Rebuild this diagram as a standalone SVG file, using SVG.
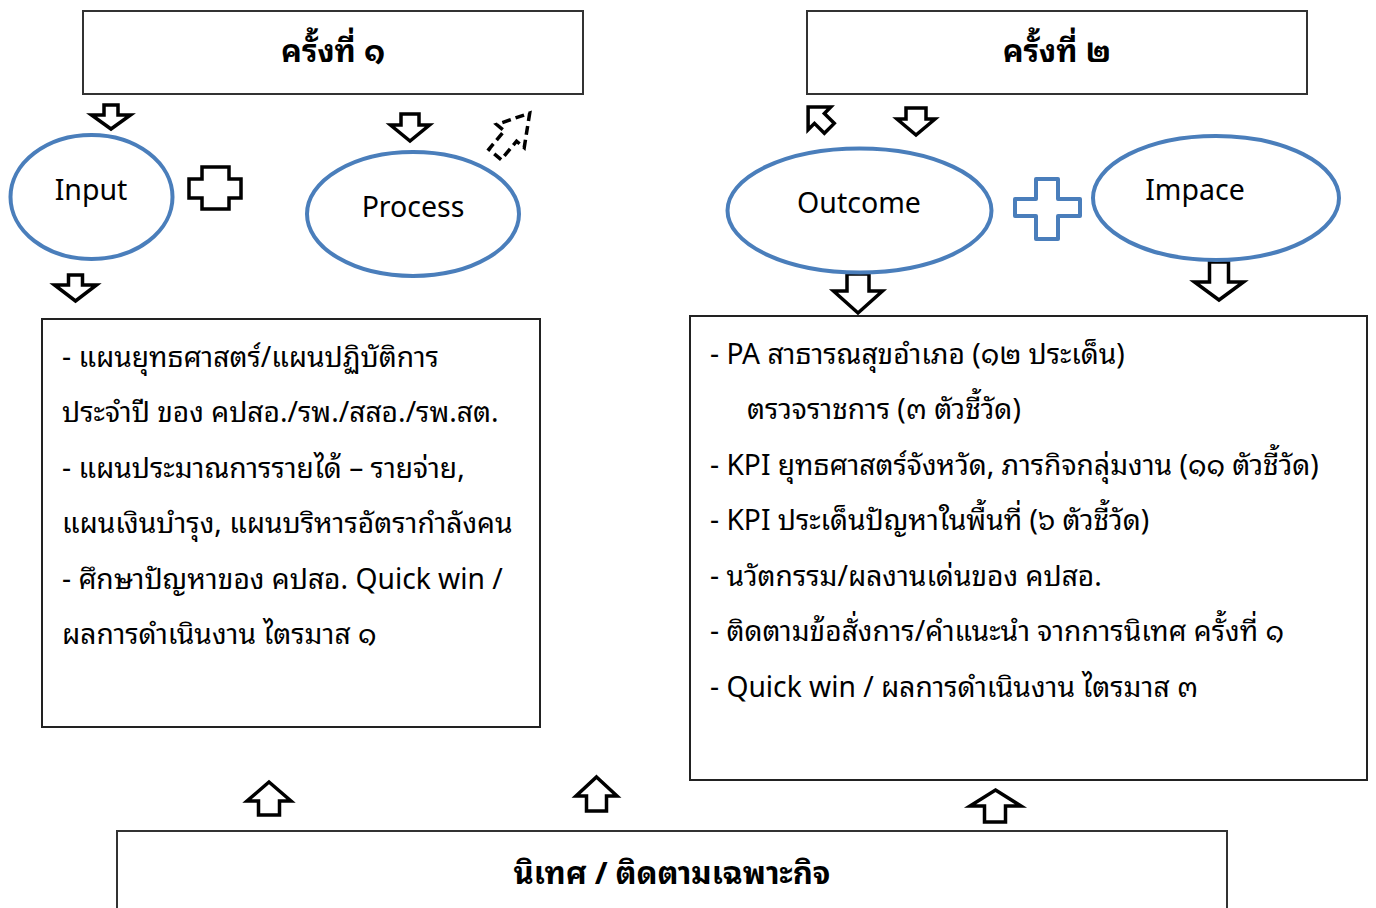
<svg xmlns="http://www.w3.org/2000/svg" width="1376" height="908" viewBox="0 0 1376 908">
<style>
.hdr{fill:#fff;stroke:#333;stroke-width:2}
.box{fill:#fff;stroke:#222;stroke-width:2}
.ell{fill:#fff;stroke:#4a7ebb;stroke-width:4}
.arr{fill:#fff;stroke:#000;stroke-width:3.5;stroke-linejoin:miter}
.t{font-family:"Noto Sans Thai Looped","Noto Serif Thai","Loma","Garuda","Noto Sans","Noto Sans Thai",sans-serif;fill:#000}
.b{font-size:31px;font-weight:bold}
.lbl{font-size:28.5px}
.body{font-size:28.2px}
</style>
<rect width="1376" height="908" fill="#fff"/>
<g id="connectors">
<path class="arr" d="M104 105H118V115H130.5L111 129L91.5 115H104Z"/>
<path class="arr" d="M401 114H419V125H429.5L410 141L390.5 125H401Z"/>
<path class="arr" d="M68.5 275H82.5V285H96.5L75.5 301L54.5 285H68.5Z"/>
<path class="arr" d="M847 274H869V291H882.5L858 313L833.5 291H847Z"/>
<path class="arr" d="M1209.5 262H1228.5V282H1243.5L1219 300L1194.5 282H1209.5Z"/>
<path class="arr" d="M906 108H926V119H935L916 135L897 119H906Z"/>
<path class="arr" transform="translate(818,117) rotate(135)" d="M-7 -16H7V-2H16L0 14L-16 -2H-7Z"/>
<path class="arr" transform="translate(513,133) rotate(-140)" d="M-8 -28H8V-4H18L0 26L-18 -4H-8Z" stroke-dasharray="9 5" stroke-width="4"/>
<path class="arr" d="M269 782L291 801H279.5V815H258.5V801H247Z"/>
<path class="arr" d="M596.5 777L617 796H606.5V811H586.5V796H576Z"/>
<path class="arr" d="M995.5 790L1021 806H1005.5V822H984.5V806H970Z"/>
<path class="arr" stroke-width="4" d="M202 167H229V179H241V198H229V209H202V198H189V179H202Z"/>
<path d="M1036 179H1058V199H1080V216H1058V239H1036V216H1015V199H1036Z" fill="#fff" stroke="#4a7ebb" stroke-width="4" stroke-linejoin="round"/>
</g>
<g id="n1"><rect class="hdr" x="83" y="11" width="500" height="83"/><text class="t b" x="333" y="62" text-anchor="middle">ครั้งที่ ๑</text></g>
<g id="n2"><rect class="hdr" x="807" y="11" width="500" height="83"/><text class="t b" x="1057" y="62" text-anchor="middle">ครั้งที่ ๒</text></g>
<g id="input"><ellipse class="ell" cx="91.5" cy="197" rx="81" ry="62"/><text class="t lbl" x="91" y="200" text-anchor="middle">Input</text></g>
<g id="process"><ellipse class="ell" cx="413" cy="214" rx="106" ry="62"/><text class="t lbl" x="413" y="217" text-anchor="middle">Process</text></g>
<g id="outcome"><ellipse class="ell" cx="859.5" cy="210.5" rx="132" ry="62"/><text class="t lbl" x="859" y="213" text-anchor="middle">Outcome</text></g>
<g id="impace"><ellipse class="ell" cx="1216" cy="198" rx="123" ry="62"/><text class="t lbl" x="1195" y="200" text-anchor="middle">Impace</text></g>
<g id="left-box"><rect class="box" x="42" y="319" width="498" height="408"/>
<text class="t body" x="62" y="367">- แผนยุทธศาสตร์/แผนปฏิบัติการ</text>
<text class="t body" x="62" y="422">ประจำปี ของ คปสอ./รพ./สสอ./รพ.สต.</text>
<text class="t body" x="62" y="478">- แผนประมาณการรายได้ – รายจ่าย,</text>
<text class="t body" x="62" y="533">แผนเงินบำรุง, แผนบริหารอัตรากำลังคน</text>
<text class="t body" x="62" y="589">- ศึกษาปัญหาของ คปสอ. Quick win /</text>
<text class="t body" x="62" y="644">ผลการดำเนินงาน ไตรมาส ๑</text>
</g>
<g id="right-box"><rect class="box" x="690" y="316" width="677" height="464" stroke="#444"/>
<text class="t body" x="710" y="364">- PA สาธารณสุขอำเภอ (๑๒ ประเด็น)</text>
<text class="t body" x="747" y="419">ตรวจราชการ (๓ ตัวชี้วัด)</text>
<text class="t body" x="710" y="475">- KPI ยุทธศาสตร์จังหวัด, ภารกิจกลุ่มงาน (๑๑ ตัวชี้วัด)</text>
<text class="t body" x="710" y="530">- KPI ประเด็นปัญหาในพื้นที่  (๖ ตัวชี้วัด)</text>
<text class="t body" x="710" y="586">- นวัตกรรม/ผลงานเด่นของ คปสอ.</text>
<text class="t body" x="710" y="641">- ติดตามข้อสั่งการ/คำแนะนำ จากการนิเทศ ครั้งที่ ๑</text>
<text class="t body" x="710" y="697">- Quick win / ผลการดำเนินงาน ไตรมาส ๓</text>
</g>
<g id="bottom"><rect class="hdr" x="117" y="831" width="1110" height="90"/><text class="t b" x="672" y="884" text-anchor="middle">นิเทศ / ติดตามเฉพาะกิจ</text></g>
</svg>
